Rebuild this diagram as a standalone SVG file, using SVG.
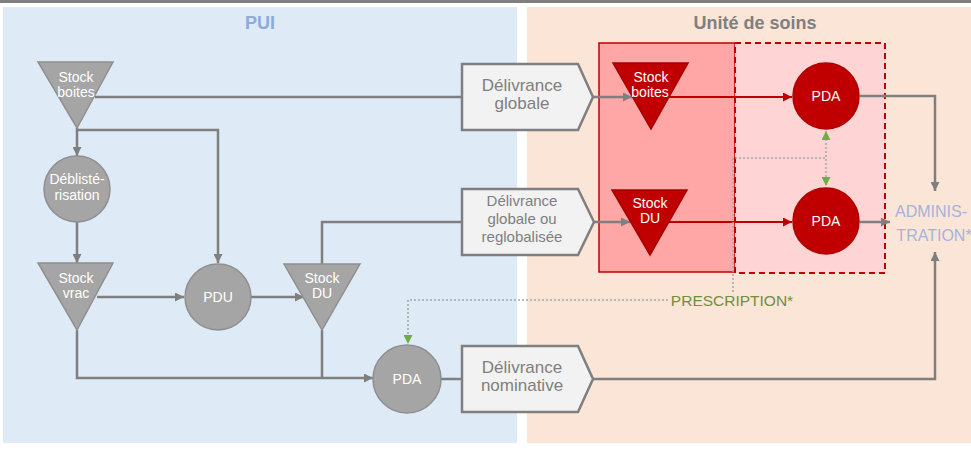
<svg xmlns="http://www.w3.org/2000/svg" width="971" height="456" viewBox="0 0 971 456">
  <defs>
    <marker id="ah-gray" viewBox="0 0 10 10" refX="10" refY="5" markerWidth="10" markerHeight="9" markerUnits="userSpaceOnUse" orient="auto">
      <path d="M0,0 L10,5 L0,10 z" fill="#7f7f7f"/>
    </marker>
    <marker id="ah-red" viewBox="0 0 10 10" refX="10" refY="5" markerWidth="10" markerHeight="9" markerUnits="userSpaceOnUse" orient="auto">
      <path d="M0,0 L10,5 L0,10 z" fill="#c00000"/>
    </marker>
    <marker id="ah-green" viewBox="0 0 10 10" refX="10" refY="5" markerWidth="9" markerHeight="9" markerUnits="userSpaceOnUse" orient="auto-start-reverse">
      <path d="M0,0 L10,5 L0,10 z" fill="#70ad47"/>
    </marker>
  </defs>
  <style>
    text { font-family: "Liberation Sans", Arial, sans-serif; text-anchor: middle; }
    .title { font-size: 18px; font-weight: bold; }
    .tri-g { fill: #a5a5a5; stroke: #8f8f8f; stroke-width: 1.5; }
    .circ-g { fill: #a5a5a5; stroke: #8f8f8f; stroke-width: 1.5; }
    .tri-r { fill: #c00000; stroke: #a50000; stroke-width: 1.5; }
    .circ-r { fill: #c00000; stroke: #b00000; stroke-width: 1.5; }
    .lbl-w { fill: #ffffff; font-size: 14px; }
    .pent { fill: #f2f2f2; stroke: #7f7f7f; stroke-width: 2.5; stroke-linejoin: miter; }
    .lbl-p { fill: #7f7f7f; font-size: 17px; }
    .lbl-p3 { fill: #7f7f7f; font-size: 15px; }
    .ln { fill: none; stroke: #7f7f7f; stroke-width: 2.5; }
    .ln-r { fill: none; stroke: #c00000; stroke-width: 2; }
    .dot { fill: none; stroke: #a6a6a6; stroke-width: 1.5; stroke-dasharray: 2 2; }
  </style>

  <!-- background bands -->
  <rect x="0" y="0" width="971" height="456" fill="#ffffff"/>
  <rect x="0" y="0" width="971" height="3" fill="#7f7f7f"/>
  <rect x="3" y="7" width="514" height="436" fill="#deebf7"/>
  <rect x="527" y="7" width="444" height="436" fill="#fbe5d6"/>
  <text class="title" x="260" y="29" fill="#8eaadb">PUI</text>
  <text class="title" x="755" y="29" fill="#7f7f7f">Unité de soins</text>

  <!-- care-unit zones -->
  <rect x="599" y="43" width="136" height="229" fill="#ffa6a6" stroke="#c00000" stroke-width="1.5"/>
  <rect x="735" y="43" width="150" height="230" fill="#ffd4d4" stroke="#c00000" stroke-width="2" stroke-dasharray="6 4"/>

  <!-- connectors -->
  <g id="connectors">
    <path class="ln" d="M77 128 V156" marker-end="url(#ah-gray)"/>
    <path class="ln" d="M77 222 V263" marker-end="url(#ah-gray)"/>
    <path class="ln" d="M77 130 H218 V263" marker-end="url(#ah-gray)"/>
    <path class="ln" d="M95 97 H462"/>
    <path class="ln" d="M97 297 H184" marker-end="url(#ah-gray)"/>
    <path class="ln" d="M251 297 H304" marker-end="url(#ah-gray)"/>
    <path class="ln" d="M322 264 V222 H462"/>
    <path class="ln" d="M77 330 V378 H373" marker-end="url(#ah-gray)"/>
    <path class="ln" d="M322 330 V378"/>
    <path class="ln" d="M441 379 H462"/>
    <path class="ln" d="M593 379 H935 V252" marker-end="url(#ah-gray)"/>
    <path class="ln" d="M593 97 H632" marker-end="url(#ah-gray)"/>
    <path class="ln" d="M593 222 H630" marker-end="url(#ah-gray)"/>
    <path class="ln-r" d="M669 97 H792" marker-end="url(#ah-red)"/>
    <path class="ln-r" d="M668 222 H792" marker-end="url(#ah-red)"/>
    <path class="ln" d="M860 96 H935 V191" marker-end="url(#ah-gray)"/>
    <path class="ln" d="M860 222 H890" marker-end="url(#ah-gray)"/>
    <path class="dot" d="M733 292 V158 H826"/>
    <path class="dot" d="M826 131 V186" stroke="#a9c08f" marker-start="url(#ah-green)" marker-end="url(#ah-green)"/>
    <path class="dot" d="M668 300 H408 V344" marker-end="url(#ah-green)"/>
  </g>

  <!-- PUI nodes -->
  <g id="stock-boites-pui">
    <polygon class="tri-g" points="38,62 113,62 77,128"/>
    <text class="lbl-w" x="76" y="82">Stock</text>
    <text class="lbl-w" x="76" y="97">boites</text>
  </g>
  <g id="deblisterisation">
    <circle class="circ-g" cx="77" cy="189" r="33"/>
    <text class="lbl-w" x="77" y="184">Déblisté-</text>
    <text class="lbl-w" x="77" y="200">risation</text>
  </g>
  <g id="stock-vrac">
    <polygon class="tri-g" points="38,263 113,263 77,330"/>
    <text class="lbl-w" x="76" y="283">Stock</text>
    <text class="lbl-w" x="76" y="298">vrac</text>
  </g>
  <g id="pdu">
    <circle class="circ-g" cx="218" cy="297" r="33"/>
    <text class="lbl-w" x="218" y="302">PDU</text>
  </g>
  <g id="stock-du-pui">
    <polygon class="tri-g" points="284,264 360,264 322,330"/>
    <text class="lbl-w" x="322" y="283">Stock</text>
    <text class="lbl-w" x="322" y="298">DU</text>
  </g>
  <g id="pda-pui">
    <circle class="circ-g" cx="407" cy="379" r="34"/>
    <text class="lbl-w" x="407" y="384">PDA</text>
  </g>

  <!-- delivery steps -->
  <g id="delivrance-globale">
    <polygon class="pent" points="462,64 578,64 593,97 578,130 462,130"/>
    <text class="lbl-p" x="522" y="91">Délivrance</text>
    <text class="lbl-p" x="522" y="109">globale</text>
  </g>
  <g id="delivrance-reglobalisee">
    <polygon class="pent" points="462,189 578,189 594,222 578,255 462,255"/>
    <text class="lbl-p3" x="522" y="206">Délivrance</text>
    <text class="lbl-p3" x="522" y="224">globale ou</text>
    <text class="lbl-p3" x="522" y="242">reglobalisée</text>
  </g>
  <g id="delivrance-nominative">
    <polygon class="pent" points="462,346 578,346 593,379 578,412 462,412"/>
    <text class="lbl-p" x="522" y="373">Délivrance</text>
    <text class="lbl-p" x="522" y="391">nominative</text>
  </g>

  <!-- care-unit nodes -->
  <g id="stock-boites-us">
    <polygon class="tri-r" points="613,63 688,63 651,129"/>
    <text class="lbl-w" x="651" y="82">Stock</text>
    <text class="lbl-w" x="650" y="97">boites</text>
  </g>
  <g id="stock-du-us">
    <polygon class="tri-r" points="612,190 687,190 650,255"/>
    <text class="lbl-w" x="650" y="208">Stock</text>
    <text class="lbl-w" x="650" y="223">DU</text>
  </g>
  <g id="pda-us-1">
    <circle class="circ-r" cx="826" cy="96" r="33"/>
    <text class="lbl-w" x="826" y="101">PDA</text>
  </g>
  <g id="pda-us-2">
    <circle class="circ-r" cx="826" cy="221" r="33"/>
    <text class="lbl-w" x="826" y="226">PDA</text>
  </g>

  <g id="prescription">
    <text x="732" y="306" font-size="15.5" fill="#6f8f3e">PRESCRIPTION*</text>
  </g>
  <g id="administration">
    <text x="931" y="217" font-size="16" fill="#a3b4dc">ADMINIS-</text>
    <text x="934" y="241" font-size="16" fill="#a3b4dc">TRATION*</text>
  </g>
</svg>
